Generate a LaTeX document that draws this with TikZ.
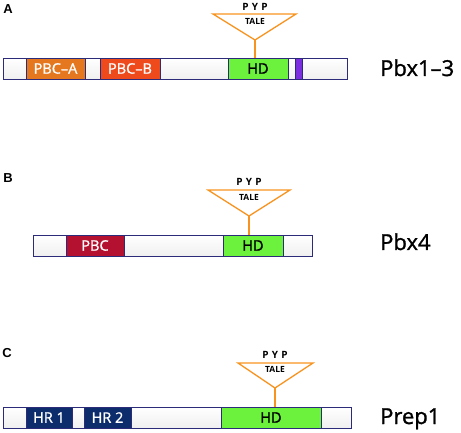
\documentclass[tikz,border=0pt]{standalone}
\usepackage{fontspec}
\setmainfont{Open Sans}
\newfontfamily\segfont[FakeBold=1.2]{Open Sans}
\newfontfamily\panelfont{Liberation Sans}
\usetikzlibrary{positioning}
\definecolor{barEdge}{HTML}{2B2B7A}
\definecolor{pbcA}{HTML}{E5771E}
\definecolor{pbcB}{HTML}{EE4A1C}
\definecolor{pbcFour}{HTML}{B3112F}
\definecolor{hrBlue}{HTML}{0D2C6C}
\definecolor{hdGreen}{HTML}{6CF23C}
\definecolor{tailPurple}{HTML}{7A2EE0}
\definecolor{taleOrange}{HTML}{F7931E}

\begin{document}
\begin{tikzpicture}[x=1pt, y=-1pt,
    seg/.style={draw=barEdge, line width=0.8pt, minimum height=21pt,
      inner sep=0pt, outer sep=0pt, anchor=west,
      font=\segfont\fontsize{14.5}{14.5}\selectfont\color{white}},
    blank/.style={seg, top color=white, middle color=white, bottom color=gray!12},
    hd/.style={seg, fill=hdGreen, font=\segfont\fontsize{14.5}{14.5}\selectfont},
    tale/.style={draw=taleOrange, line width=1.3pt},
    pyp/.style={font=\fontsize{10}{10}\selectfont\bfseries, inner sep=0pt},
    talelabel/.style={font=\fontsize{8.5}{8.5}\selectfont\bfseries, inner sep=0pt},
    protein/.style={font=\segfont\fontsize{22}{22}\selectfont, anchor=base west, inner sep=0pt},
    panel/.style={font=\panelfont\fontsize{13}{13}\selectfont\bfseries, inner sep=0pt}]
  \useasboundingbox (0,0) rectangle (461,433);

  % A: Pbx1-3
  \node[panel] (panA) at (8,9) {A};
  \node[blank, minimum width=23pt] (a1) at (3,68.5) {};
  \node[seg, fill=pbcA, minimum width=59pt] (pbcAA) at (26,68.5) {PBC–A};
  \node[blank, minimum width=15pt] (a2) at (85,68.5) {};
  \node[seg, fill=pbcB, minimum width=60pt] (pbcBA) at (100,68.5) {PBC–B};
  \node[blank, minimum width=68pt] (a3) at (160,68.5) {};
  \node[hd, minimum width=60pt] (hdA) at (228,68.5) {HD};
  \node[blank, minimum width=7pt] (a4) at (288,68.5) {};
  \node[seg, fill=tailPurple, minimum width=7pt] (purA) at (295,68.5) {};
  \node[blank, minimum width=45pt] (a5) at (302,68.5) {};
  \node[protein] (nameA) at (380,76) {Pbx1–3};
  % TALE loop
  \coordinate (taleAl) at (213,14);
  \coordinate (taleAr) at (296,14);
  \coordinate (apexA) at (255,40);
  \draw[tale, line join=miter] (taleAl) -- (taleAr) -- (apexA) -- cycle;
  \draw[tale] (apexA) -- (apexA |- hdA.north);
  \node[pyp] (pypA) at (255,6.5) {P\,\,Y\,\,P};
  \node[talelabel] (taleA) at (255,21) {TALE};

  % B: Pbx4
  \node[panel] (panB) at (8,178) {B};
  \node[blank, minimum width=33pt] (b1) at (33,245.5) {};
  \node[seg, fill=pbcFour, minimum width=58pt] (pbcB4) at (66,245.5) {PBC};
  \node[blank, minimum width=99pt] (b2) at (124,245.5) {};
  \node[hd, minimum width=60pt] (hdB) at (223,245.5) {HD};
  \node[blank, minimum width=29pt] (b3) at (283,245.5) {};
  \node[protein] (nameB) at (380,250) {Pbx4};
  % TALE loop
  \coordinate (taleBl) at (208,190);
  \coordinate (taleBr) at (290,190);
  \coordinate (apexB) at (249,216);
  \draw[tale, line join=miter] (taleBl) -- (taleBr) -- (apexB) -- cycle;
  \draw[tale] (apexB) -- (apexB |- hdB.north);
  \node[pyp] (pypB) at (249,182) {P\,\,Y\,\,P};
  \node[talelabel] (taleB) at (249,197) {TALE};

  % C: Prep1
  \node[panel] (panC) at (7,353) {C};
  \node[blank, minimum width=23pt] (c1) at (3,417.5) {};
  \node[seg, fill=hrBlue, minimum width=46pt] (hrOne) at (26,417.5) {HR 1};
  \node[blank, minimum width=12pt] (c2) at (72,417.5) {};
  \node[seg, fill=hrBlue, minimum width=47pt] (hrTwo) at (84,417.5) {HR 2};
  \node[blank, minimum width=90pt] (c3) at (131,417.5) {};
  \node[hd, minimum width=100pt] (hdC) at (221,417.5) {HD};
  \node[blank, minimum width=30pt] (c4) at (321,417.5) {};
  \node[protein] (nameC) at (380,424) {Prep1};
  % TALE loop
  \coordinate (taleCl) at (238,363);
  \coordinate (taleCr) at (313,363);
  \coordinate (apexC) at (275,388);
  \draw[tale, line join=miter] (taleCl) -- (taleCr) -- (apexC) -- cycle;
  \draw[tale] (apexC) -- (apexC |- hdC.north);
  \node[pyp] (pypC) at (275,355) {P\,\,Y\,\,P};
  \node[talelabel] (taleC) at (275,369) {TALE};
\end{tikzpicture}
\end{document}
